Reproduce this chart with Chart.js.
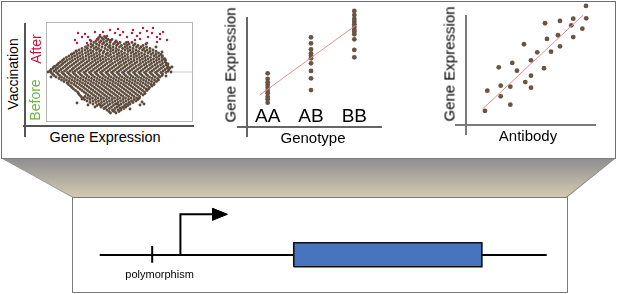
<!DOCTYPE html>
<html><head><meta charset="utf-8">
<script src="https://cdn.jsdelivr.net/npm/chart.js@4/dist/chart.umd.min.js"></script>
<style>
html,body{margin:0;padding:0;background:#fff;width:617px;height:294px;overflow:hidden;font-family:"Liberation Sans",Arial,sans-serif;color:#000;}
.abs{position:absolute;box-sizing:border-box;}
canvas{position:absolute;}
.t{position:absolute;white-space:nowrap;line-height:1;transform:translate(-50%,-50%);}
.r{transform:translate(-50%,-50%) rotate(-90deg);}
</style></head><body>
<div class="abs" style="left:1px;top:1px;width:615px;height:158px;border:1.5px solid #6e6e6e;background:#fff;"></div>
<div class="abs" style="left:0;top:158px;width:617px;height:40px;background:#7c7c7c;clip-path:polygon(1px 0,616px 0,567.5px 39px,71.5px 39px);"></div>
<div class="abs" style="left:0;top:159px;width:617px;height:39px;background:linear-gradient(to bottom,#8f8f8f 0%,#aeaaa0 45%,#d5cbb1 100%);clip-path:polygon(2.8px 0,614.2px 0,566px 38px,73px 38px);"></div>
<div class="abs" style="left:72px;top:197px;width:496px;height:96px;border:1px solid #7a7a7a;background:#fff;"></div>

<!-- axis lines (decoration) -->
<div class="abs" style="left:24.3px;top:23px;width:1.5px;height:114px;background:#555;"></div>
<div class="abs" style="left:23px;top:125.3px;width:171px;height:1.5px;background:#555;"></div>
<div class="abs" style="left:246.3px;top:17px;width:1.5px;height:120px;background:#666;"></div>
<div class="abs" style="left:237px;top:126.3px;width:145px;height:1.5px;background:#666;"></div>
<div class="abs" style="left:465.3px;top:15px;width:1.5px;height:120px;background:#7a7a7a;"></div>
<div class="abs" style="left:455px;top:124.3px;width:141px;height:1.5px;background:#7a7a7a;"></div>

<canvas id="c1" width="159" height="112" style="left:40px;top:16px;"></canvas>
<canvas id="c2" width="150" height="137" style="left:236px;top:0px;"></canvas>
<canvas id="c3" width="150" height="135" style="left:456px;top:0px;"></canvas>
<canvas id="c4" width="495" height="95" style="left:72px;top:197px;"></canvas>

<div class="t r" style="left:13px;top:74px;font-size:14px;">Vaccination</div>
<div class="t r" style="left:35.5px;top:49px;font-size:14px;color:#c4143a;">After</div>
<div class="t r" style="left:35px;top:100px;font-size:14px;color:#6db345;">Before</div>
<div class="t" style="left:105px;top:137px;font-size:14.5px;">Gene Expression</div>
<div class="t r" style="left:230px;top:65px;font-size:15px;">Gene Expression</div>
<div class="t" style="left:313px;top:137px;font-size:15px;">Genotype</div>
<div class="t r" style="left:449px;top:63.5px;font-size:15px;">Gene Expression</div>
<div class="t" style="left:528px;top:135px;font-size:15px;">Antibody</div>
<div class="t" style="left:159.6px;top:274.3px;font-size:11px;">polymorphism</div>

<script>
// ---------- Panel 1: gene expression before / after vaccination ----------
// each row: [vaccination-axis level, gene-expression values]
const cloudRows = [
  [85.5, [54, 58.5]],
  [84, [52.5, 56, 60]],
  [82.5, [52, 57.5, 62, 66]],
  [81, [50, 55, 60.5, 64.5, 70]],
  [79.5, [48, 53.5, 58, 64, 69, 74, 80.5, 86]],
  [78, [45, 50.5, 56.5, 61, 67.5, 72, 78.5, 83, 89]],
  [76.5, [42, 47, 53, 59.5, 64, 70.5, 75.5, 81, 87.5, 92, 97]],
  [75, [39.5, 45, 50, 56, 62.5, 67, 73.5, 79, 84, 90.5, 95, 100.5]],
  [73.5, [36, 41.5, 48, 52.5, 59, 64.5, 70, 76.5, 81.5, 87, 93.5, 98, 104]],
  [72, [33, 39, 44.5, 50.5, 55, 61.5, 67, 72.5, 79, 84, 90, 96.5, 101, 107]],
  [70.5, [30.5, 36, 42, 47, 53.5, 58, 64.5, 70, 75.5, 82, 87, 92.5, 99, 104, 110]],
  [69, [28, 33.5, 39.5, 45, 50.5, 57, 61.5, 67.5, 73, 78.5, 85, 90, 95.5, 102, 107, 112.5]],
  [67.5, [25.5, 31, 36.5, 42.5, 48, 53.5, 60, 64.5, 71, 76, 81.5, 88, 93, 98.5, 105, 110, 115]],
  [66, [23, 28.5, 34, 40, 45.5, 51, 56.5, 62.5, 68, 73.5, 79, 85, 90.5, 96, 101.5, 108, 113, 116.5]],
  [64.5, [20.5, 26, 31.5, 37, 43, 48.5, 54, 59.5, 65.5, 71, 76.5, 82, 88, 93.5, 99, 104.5, 110.5, 116]],
  [63, [18, 23.5, 29, 34.5, 40, 46, 51.5, 57, 62.5, 68.5, 74, 79.5, 85, 91, 96.5, 102, 107.5, 113, 118]],
  [61.5, [16.5, 21, 26.5, 32, 37.5, 43, 49, 54.5, 60, 65.5, 71.5, 77, 82.5, 88, 94, 99.5, 105, 110.5, 116, 119.5]],
  [60, [14.5, 19, 24.5, 30, 35.5, 41, 46.5, 52, 57.5, 63.5, 69, 74.5, 80, 85.5, 91, 97, 102.5, 108, 113.5, 119]],
  [58.5, [12.5, 17, 22.5, 28, 33.5, 39, 44.5, 50, 55.5, 61, 66.5, 72.5, 78, 83.5, 89, 94.5, 100, 105.5, 111, 116.5, 120.5]],
  [57, [11, 15.5, 20.5, 26, 31.5, 37, 42.5, 48, 53.5, 59, 64.5, 70, 75.5, 81, 86.5, 92.5, 98, 103.5, 109, 114.5, 120]],
  [55.5, [9, 13.5, 19, 24, 29.5, 35, 40.5, 46, 51.5, 57, 62.5, 68, 73.5, 79, 84.5, 90, 95.5, 101, 106.5, 112, 117.5, 122]],
  [54, [7, 11.5, 17, 22, 27.5, 33, 38.5, 44, 49.5, 55, 60.5, 66, 71.5, 77, 82.5, 88, 93.5, 99, 104.5, 110, 115.5, 121, 124]],
  [52.5, [5, 10, 15, 20.5, 26, 31, 36.5, 42, 47.5, 53, 58.5, 64, 69.5, 75, 80.5, 86, 91.5, 97, 102.5, 108, 113.5, 119, 123]],
  [51, [4, 8, 13, 18.5, 24, 29, 34.5, 40, 45.5, 51, 56.5, 62, 67.5, 73, 78.5, 84, 89.5, 95, 100.5, 106, 111.5, 117, 122]],
  [49.5, [5, 10.5, 16, 21.5, 27, 32.5, 38, 43.5, 49, 54.5, 60, 65.5, 71, 76.5, 82, 87.5, 93, 98.5, 104, 109.5, 115, 120]],
  [48, [6.5, 12, 17.5, 23, 28.5, 34, 39.5, 45, 50.5, 56, 61.5, 67, 72.5, 78, 83.5, 89, 94.5, 100, 105.5, 111, 116.5]],
  [46.5, [8, 13.5, 19, 24.5, 30, 35.5, 41, 46.5, 52, 57.5, 63, 68.5, 74, 79.5, 85, 90.5, 96, 101.5, 107, 112.5, 116]],
  [45, [10, 15.5, 21, 26.5, 32, 37.5, 43, 48.5, 54, 59.5, 65, 70.5, 76, 81.5, 87, 92.5, 98, 103.5, 109, 114]],
  [43.5, [13, 18, 23.5, 29, 34.5, 40, 45.5, 51, 56.5, 62, 67.5, 73, 78.5, 84, 89.5, 95, 100.5, 106, 111.5]],
  [42, [15.5, 20.5, 26, 31.5, 37, 42.5, 48, 53.5, 59, 64.5, 70, 75.5, 81, 86.5, 92, 97.5, 103, 108.5, 112.5]],
  [40.5, [18, 23, 28.5, 34, 39.5, 45, 50.5, 56, 61.5, 67, 72.5, 78, 83.5, 89, 94.5, 100, 105.5, 110.5]],
  [39, [21, 25.5, 31, 36.5, 42, 47.5, 53, 58.5, 64, 69.5, 75, 80.5, 86, 91.5, 97, 102.5, 108]],
  [37.5, [22.5, 28, 33.5, 39, 44.5, 50, 55.5, 61, 66.5, 72, 77.5, 83, 88.5, 94, 99.5, 105, 108]],
  [36, [24.5, 30, 35.5, 41, 46.5, 52, 57.5, 63, 68.5, 74, 79.5, 85, 90.5, 96, 101.5, 106]],
  [34.5, [26, 32, 37.5, 43, 48.5, 54, 59.5, 65, 70.5, 76, 81.5, 87, 92.5, 98, 103.5]],
  [33, [27.5, 34, 39.5, 45, 50.5, 56, 61.5, 67, 72.5, 78, 83.5, 89, 94.5, 100, 102.5]],
  [31.5, [29.5, 36, 41.5, 47, 52.5, 58, 63.5, 69, 74.5, 80, 85.5, 91, 96.5, 101]],
  [30, [31.5, 38, 43.5, 49, 54.5, 60, 65.5, 71, 76.5, 82, 87.5, 93, 98.5]],
  [28.5, [32.5, 40, 45.5, 51, 56.5, 62, 67.5, 73, 78.5, 84, 89.5, 95, 99]],
  [27, [33.5, 42, 47.5, 53, 58.5, 64, 69.5, 75, 80.5, 86, 91.5, 97]],
  [25.5, [35, 39, 44, 49.5, 55, 60.5, 66, 71.5, 77, 82.5, 88, 93.5]],
  [24, [37, 41.5, 46.5, 52, 57.5, 63, 68.5, 74, 79.5, 85, 90.5, 93.5]],
  [22.5, [38.5, 44, 49.5, 55, 60.5, 66, 71.5, 77, 82.5, 88, 92]],
  [21, [41, 47, 52.5, 58, 63.5, 69, 74.5, 80, 85.5, 90]],
  [19.5, [44, 50, 55.5, 61, 66.5, 72, 77.5, 83, 87]],
  [18, [47, 53, 58.5, 64, 69.5, 75, 80.5, 84]],
  [16.5, [51, 56.5, 62, 67.5, 73, 78.5, 82]],
  [15, [55, 60, 65.5, 71, 76.5, 80]],
  [13.5, [58, 63.5, 69, 74.5, 78]],
  [12, [61, 66.5, 72, 75]],
  [10.5, [63, 68.5, 73]],
  [9, [64.5, 70]]
];
const cloudStray = [[2,50],[31,19],[36,23],[42,17],[49,15],[54,17],[59,14],[67,11],[71,18],[74,14],[84,13],[94,17],[96,20],[98,18],[122,58],[119,63],[126,55],[125,50],[120,46],[8,55],[5,45],[30,71],[26,68],[110,75],[116,70],[45,81],[100,78]];
const afterPoints = [[32,89],[36,85],[29,82],[31,79],[39,88],[42,85],[44,82],[49,90],[54,87],[51,83],[57,90],[61,86],[64,92],[69,89],[72,93],[74,87],[77,90],[81,85],[86,89],[87,92],[91,86],[94,89],[97,94],[101,91],[102,85],[106,89],[107,94],[111,85],[114,88],[117,90],[121,82],[101,79],[111,80],[64,82],[71,80],[41,79],[54,80],[89,82],[82,80],[94,83],[114,83]];
const baselineLevel = 50;

// ---------- Panel 2: expression by genotype ----------
const genotypes = ['AA', 'AB', 'BB'];
const exprAA = [44.7, 40, 37.2, 35, 32.8, 30, 28.1, 25.3, 23.1, 20.3];
const exprAB = [74.7, 69.7, 64.7, 61.4, 59.4, 57.2, 53.1, 46.7, 40.6, 30.8];
const exprBB = [96.7, 93.3, 90, 87.8, 85.6, 83.3, 81.1, 79.4, 77.3, 73.1, 64.2, 58.1];
const genoFitX = [-0.18, 2.02];
const genoFitY = [26.7, 84.4];

// ---------- Panel 3: expression vs antibody ----------
const antibody = [14.6, 16.4, 26.7, 25.2, 26.7, 34.1, 34.1, 35.6, 39.2, 44.6, 45.6, 50, 50, 50, 54.8, 60, 60.8, 62.3, 65.4, 70.8, 72.3, 72.3, 81, 82.5, 82.5, 89.5, 92.3, 92.5];
const antibodyExpr = [11.7, 28.6, 23.9, 48.1, 32.8, 31.9, 16.9, 51.7, 45.3, 67.3, 35.8, 53.9, 41.1, 31.1, 60.6, 47.3, 84.8, 71.7, 61.1, 74.8, 86.7, 65.6, 83.1, 88.6, 73.3, 80.3, 99.2, 88.9];
const abFitX = [12.5, 90.2];
const abFitY = [13.1, 91.7];

// ---------- Panel 4: gene structure ----------
const geneSpan = [5.6, 95.9];
const geneTrack = 38.9;
const exonSpan = [44.8, 82.8];
const exonTrack = [26.6, 51.9];
const snpPos = 16.2;
const snpTrack = [30.8, 48.4];
const tssPos = 21.9;
const tssTop = 81.8;
const arrowSpan = [28.4, 31.4];
const arrowHalf = 6.3;

// ---------- helpers ----------
const BROWN = '#6a5443';
const CLOUD = '#5c4a3a';
const FONT = '"Liberation Sans", Arial, sans-serif';
function baseOpts(xmin, xmax, ymin, ymax, pad) {
  return {
    responsive: false, animation: false, events: [],
    layout: { padding: pad },
    plugins: { legend: { display: false }, tooltip: { enabled: false } },
    scales: {
      x: { type: 'linear', display: false, min: xmin, max: xmax },
      y: { type: 'linear', display: false, min: ymin, max: ymax }
    }
  };
}
const toXY = arr => arr.map(p => ({ x: p[0], y: p[1] }));

// Panel 1
const cloudPts = [];
cloudRows.forEach(([y, xs]) => xs.forEach(x => cloudPts.push({ x, y })));
toXY(cloudStray).forEach(p => cloudPts.push(p));
const boxPlugin = {
  id: 'plotBox',
  beforeDatasetsDraw(chart) {
    const a = chart.chartArea, ctx = chart.ctx;
    ctx.save(); ctx.strokeStyle = '#b5b5b5'; ctx.lineWidth = 1;
    ctx.strokeRect(a.left + 0.5, a.top + 0.5, a.right - a.left - 1, a.bottom - a.top - 1);
    ctx.restore();
  }
};
new Chart(document.getElementById('c1'), {
  type: 'line',
  data: { datasets: [
    { data: toXY(afterPoints), showLine: false, pointRadius: 1.25, pointBorderWidth: 0, pointBackgroundColor: '#a62a48', order: 1, clip: false },
    { data: cloudPts, showLine: false, pointRadius: 1.45, pointBorderWidth: 0, pointBackgroundColor: CLOUD, order: 2, clip: false },
    { data: [{ x: 0, y: baselineLevel }, { x: 147, y: baselineLevel }], borderColor: '#c2cad6', borderWidth: 1, pointRadius: 0, order: 3 }
  ] },
  options: baseOpts(0, 147, 0, 100, { left: 6, right: 6, top: 6, bottom: 6 }),
  plugins: [boxPlugin]
});

// Panel 2
const catPlugin = {
  id: 'catLabels',
  afterDatasetsDraw(chart) {
    const { ctx, scales: { x, y } } = chart;
    ctx.save(); ctx.font = '19px ' + FONT; ctx.fillStyle = '#000';
    ctx.textAlign = 'center'; ctx.textBaseline = 'middle';
    genotypes.forEach((g, i) => ctx.fillText(g, x.getPixelForValue(i), y.getPixelForValue(8.3)));
    ctx.restore();
  }
};
const colPts = (vals, i) => vals.map(v => ({ x: i, y: v }));
new Chart(document.getElementById('c2'), {
  type: 'line',
  data: { datasets: [
    { data: colPts(exprAA, 0), showLine: false, pointRadius: 2.4, pointBorderWidth: 0, pointBackgroundColor: BROWN, clip: false, order: 1 },
    { data: colPts(exprAB, 1), showLine: false, pointRadius: 2.4, pointBorderWidth: 0, pointBackgroundColor: BROWN, clip: false, order: 1 },
    { data: colPts(exprBB, 2), showLine: false, pointRadius: 2.4, pointBorderWidth: 0, pointBackgroundColor: BROWN, clip: false, order: 1 },
    { data: genoFitX.map((x, i) => ({ x, y: genoFitY[i] })), borderColor: '#e39090', borderWidth: 1, pointRadius: 0, clip: false, order: 0 }
  ] },
  options: baseOpts(-0.5, 2.5, 0, 100, { left: 10, right: 10, top: 7, bottom: 10 }),
  plugins: [catPlugin]
});

// Panel 3
new Chart(document.getElementById('c3'), {
  type: 'line',
  data: { datasets: [
    { data: antibody.map((x, i) => ({ x, y: antibodyExpr[i] })), showLine: false, pointRadius: 2.4, pointBorderWidth: 0, pointBackgroundColor: BROWN, clip: false, order: 1 },
    { data: abFitX.map((x, i) => ({ x, y: abFitY[i] })), borderColor: '#e39090', borderWidth: 1, pointRadius: 0, clip: false, order: 0 }
  ] },
  options: baseOpts(0, 100, 0, 100, { left: 10, right: 10, top: 5, bottom: 10 })
});

// Panel 4: gene diagram
new Chart(document.getElementById('c4'), {
  type: 'line',
  data: { datasets: [
    { data: [{ x: exonSpan[0], y: exonTrack[0] }, { x: exonSpan[1], y: exonTrack[0] }, { x: exonSpan[1], y: exonTrack[1] }, { x: exonSpan[0], y: exonTrack[1] }, { x: exonSpan[0], y: exonTrack[0] }],
      borderColor: '#111', borderWidth: 1.6, backgroundColor: '#4773bf', fill: 'shape', pointRadius: 0, tension: 0, order: 0 },
    { data: [{ x: geneSpan[0], y: geneTrack }, { x: geneSpan[1], y: geneTrack }], borderColor: '#000', borderWidth: 2, pointRadius: 0, order: 1 },
    { data: [{ x: snpPos, y: snpTrack[0] }, { x: snpPos, y: snpTrack[1] }], borderColor: '#000', borderWidth: 2, pointRadius: 0, order: 1 },
    { data: [{ x: tssPos, y: geneTrack }, { x: tssPos, y: tssTop }, { x: arrowSpan[0] + 0.5, y: tssTop }], borderColor: '#000', borderWidth: 2, pointRadius: 0, borderJoinStyle: 'miter', borderCapStyle: 'butt', order: 1 },
    { data: [{ x: arrowSpan[1], y: tssTop }, { x: arrowSpan[0], y: tssTop + arrowHalf }, { x: arrowSpan[0], y: tssTop - arrowHalf }, { x: arrowSpan[1], y: tssTop }],
      borderColor: '#000', borderWidth: 1, backgroundColor: '#000', fill: 'shape', pointRadius: 0, order: 1 }
  ] },
  options: baseOpts(0, 100, 0, 100, { left: 0, right: 0, top: 0, bottom: 0 })
});
</script>
</body></html>
